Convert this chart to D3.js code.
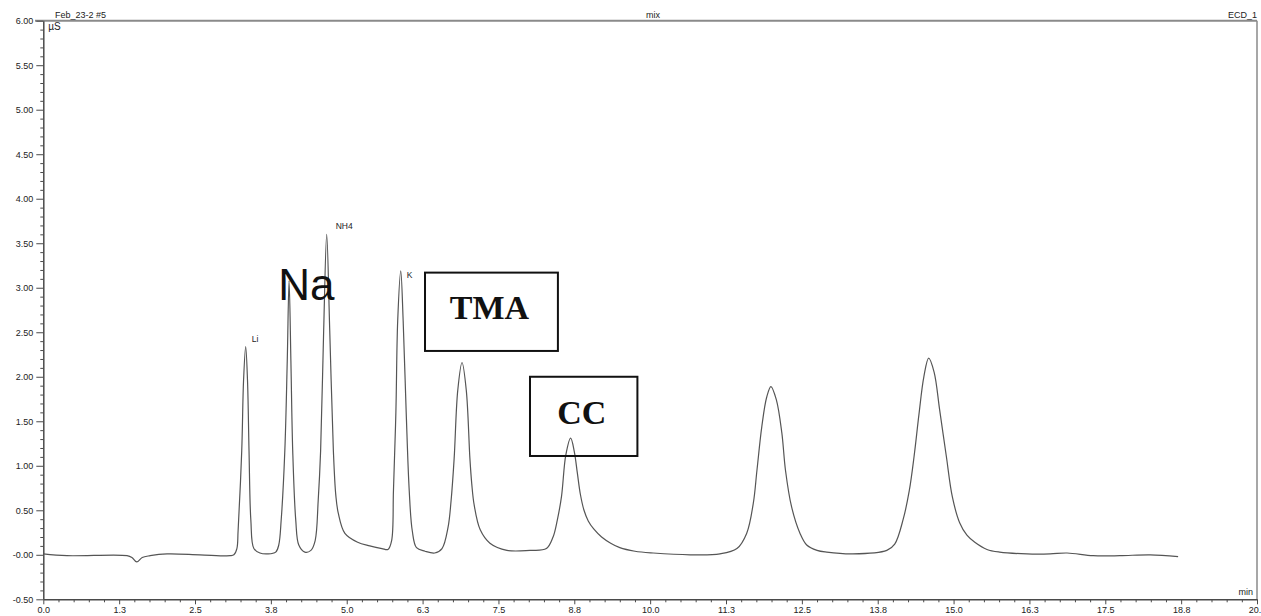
<!DOCTYPE html>
<html><head><meta charset="utf-8">
<script src="https://cdn.jsdelivr.net/npm/d3@7"></script>
<style>
body{margin:0;background:#fff}
svg{display:block}
</style></head>
<body><svg id="c" width="1261" height="616" font-family='"Liberation Sans",Arial,sans-serif'></svg>
<script>
// ---- data (time in min, signal in µS) ----
const times = [0.00,0.39,1.38,1.46,1.54,1.63,1.76,2.04,2.58,3.08,3.14,
  3.19,3.21,3.27,3.30,3.335,3.365,3.39,3.42,3.47,3.57,3.70,3.83,
  3.88,3.92,3.98,4.02,4.05,4.08,4.11,4.16,4.21,4.31,4.41,
  4.48,4.53,4.57,4.62,4.67,4.72,4.78,4.82,4.86,4.97,5.18,5.38,5.58,5.68,
  5.74,5.77,5.81,5.84,5.89,5.93,5.98,6.03,6.08,6.15,6.29,6.45,
  6.57,6.67,6.72,6.77,6.83,6.90,6.97,7.03,7.06,7.10,7.20,7.36,7.64,8.02,8.29,
  8.40,8.47,8.54,8.61,8.69,8.75,8.80,8.85,8.91,8.98,9.07,9.20,9.35,9.50,9.75,10.05,10.66,11.15,
  11.43,11.59,11.70,11.76,11.84,11.92,11.99,12.08,12.17,12.23,12.33,12.47,12.58,12.75,12.91,13.34,13.90,
  14.03,14.17,14.27,14.35,14.43,14.51,14.59,14.68,14.77,14.88,14.98,15.10,15.22,15.35,15.55,15.76,16.21,16.59,16.87,17.30,17.74,18.24,18.70];
const signal = [0.01,-0.01,-0.01,-0.03,-0.08,-0.03,-0.01,0.01,0.00,-0.01,0.00,
  0.07,0.27,1.17,1.96,2.34,1.96,1.17,0.39,0.07,0.02,0.01,0.03,
  0.11,0.39,1.17,2.18,3.08,2.18,1.17,0.39,0.11,0.03,0.05,
  0.16,0.61,1.17,2.52,3.60,2.52,1.17,0.67,0.47,0.24,0.14,0.10,0.07,0.06,
  0.16,0.72,1.60,2.63,3.19,2.63,1.60,0.72,0.27,0.08,0.04,0.02,
  0.07,0.31,0.61,1.08,1.85,2.16,1.85,1.08,0.80,0.56,0.28,0.13,0.05,0.05,0.07,
  0.20,0.39,0.66,1.12,1.31,1.16,0.92,0.68,0.50,0.38,0.29,0.20,0.13,0.08,0.04,0.02,0.00,0.01,
  0.07,0.24,0.58,0.95,1.44,1.77,1.89,1.74,1.37,0.95,0.54,0.24,0.11,0.05,0.03,0.01,0.05,
  0.12,0.40,0.72,1.11,1.58,2.00,2.21,2.05,1.63,1.11,0.65,0.36,0.22,0.14,0.06,0.03,0.01,0.01,0.02,-0.01,-0.01,0.00,-0.02];

const peakNames = ["Li","NH4","K"];
const peakTimes = [3.335,4.67,5.89];
const peakValues = [2.34,3.60,3.19];

const xTickLabels = ["0.0","1.3","2.5","3.8","5.0","6.3","7.5","8.8","10.0","11.3","12.5","13.8","15.0","16.3","17.5","18.8","20.0"];
const yTickLabels = ["-0.50","-0.00","0.50","1.00","1.50","2.00","2.50","3.00","3.50","4.00","4.50","5.00","5.50","6.00"];

const boxLabels = ["TMA","CC"];
const boxT0 = [6.29,8.02], boxT1 = [8.48,9.79];
const boxV0 = [3.17,2.00], boxV1 = [2.29,1.11];

const headerLeft = "Feb_23-2 #5", headerMid = "mix", headerRight = "ECD_1";
const yUnit = "µS", xUnit = "min";

// ---- drawing ----
const svg = d3.select("#c");
const x = d3.scaleLinear().domain([0,20]).range([43.3,1257]);
const y = d3.scaleLinear().domain([-0.5,6]).range([599.3,20.7]);
const axisCol = "#4a4a4a";
const sans = '"Liberation Sans",Arial,sans-serif';
const serif = '"Liberation Serif","Times New Roman",serif';

// frame (top & right)
svg.append("line").attr("x1",35).attr("x2",x(20)).attr("y1",y(6)).attr("y2",y(6))
  .attr("stroke","#8a8a8a").attr("stroke-width",2);
svg.append("line").attr("x1",x(20)).attr("x2",x(20)).attr("y1",y(6)).attr("y2",y(-0.5))
  .attr("stroke","#8a8a8a").attr("stroke-width",1.5);

// x axis
const xMajor = d3.range(0,20.001,1.25);
const xMinor = d3.range(0,20.001,0.25).filter(d=>Math.abs(d/1.25-Math.round(d/1.25))>1e-6);
const gxMinor = svg.append("g").attr("transform",`translate(0,${y(-0.5)})`)
  .call(d3.axisBottom(x).tickValues(xMinor).tickSize(3).tickFormat(""));
const gx = svg.append("g").attr("transform",`translate(0,${y(-0.5)})`)
  .call(d3.axisBottom(x).tickValues(xMajor).tickSize(5).tickSizeOuter(0).tickPadding(2)
    .tickFormat((d,i)=>xTickLabels[i]));
[gx,gxMinor].forEach(g=>{
  g.select(".domain").attr("stroke",axisCol).attr("stroke-width",1.5);
  g.selectAll(".tick line").attr("stroke",axisCol);
});
gxMinor.select(".domain").remove();
gx.attr("font-family",sans).attr("font-size",9);
gx.selectAll(".tick text").attr("fill","#222");

// y axis
const yMajor = d3.range(-0.5,6.001,0.5);
const yMinor = d3.range(-0.5,6.001,0.1).filter(d=>Math.abs(d*2-Math.round(d*2))>1e-6);
const gyMinor = svg.append("g").attr("transform",`translate(${x(0)},0)`)
  .call(d3.axisLeft(y).tickValues(yMinor).tickSize(3).tickFormat(""));
const gy = svg.append("g").attr("transform",`translate(${x(0)},0)`)
  .call(d3.axisLeft(y).tickValues(yMajor).tickSize(7).tickSizeOuter(0).tickPadding(3)
    .tickFormat((d,i)=>yTickLabels[i]));
[gy,gyMinor].forEach(g=>{
  g.select(".domain").attr("stroke",axisCol).attr("stroke-width",1.5);
  g.selectAll(".tick line").attr("stroke",axisCol);
});
gyMinor.select(".domain").remove();
gy.attr("font-family",sans).attr("font-size",9);
gy.selectAll(".tick text").attr("fill","#222");

// header texts
svg.append("text").attr("x",55).attr("y",18).attr("font-size",9).attr("fill","#222").text(headerLeft);
svg.append("text").attr("x",653).attr("y",18).attr("font-size",9).attr("fill","#222").attr("text-anchor","middle").text(headerMid);
svg.append("text").attr("x",x(20)).attr("y",18).attr("font-size",9).attr("fill","#222").attr("text-anchor","end").text(headerRight);
svg.append("text").attr("x",x(0)+5).attr("y",y(6)+9).attr("font-size",10).attr("fill","#222").text(yUnit);
svg.append("text").attr("x",x(20)-4).attr("y",y(-0.5)-4).attr("font-size",9).attr("fill","#222").attr("text-anchor","end").text(xUnit);

// trace
const pts = times.map((t,i)=>[t,signal[i]]);
svg.append("path").datum(pts)
  .attr("fill","none").attr("stroke","#555").attr("stroke-width",1.2)
  .attr("d",d3.line().x(d=>x(d[0])).y(d=>y(d[1])).curve(d3.curveCatmullRom.alpha(0.5)));

// small peak labels
const pdx = [6,9,6], pdy = [-4,-5,7];
peakNames.forEach((n,i)=>{
  svg.append("text").attr("x",x(peakTimes[i])+pdx[i]).attr("y",y(peakValues[i])+pdy[i])
    .attr("font-size",8.5).attr("fill","#222").text(n);
});

// big Na label
svg.append("text").attr("x",x(3.87)).attr("y",y(2.86)).attr("font-size",44).attr("fill","#111").text("Na");

// boxed labels
boxLabels.forEach((n,i)=>{
  const x0=x(boxT0[i]), x1=x(boxT1[i]), y0=y(boxV0[i]), y1=y(boxV1[i]);
  svg.append("rect").attr("x",x0).attr("y",y0).attr("width",x1-x0).attr("height",y1-y0)
    .attr("fill","none").attr("stroke","#111").attr("stroke-width",2);
  svg.append("text").attr("x",(x0+x1)/2-2).attr("y",y0+46 + (i===1?1:0))
    .attr("text-anchor","middle").attr("font-family",serif)
    .attr("font-weight","bold").attr("font-size",34).attr("fill","#111").text(n);
});
</script></body></html>
